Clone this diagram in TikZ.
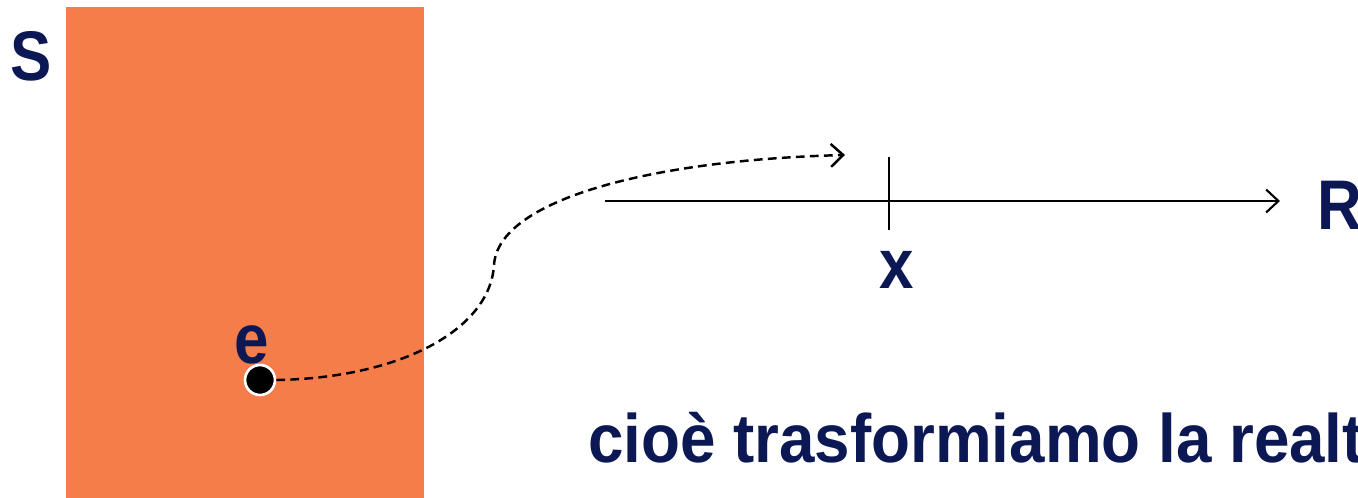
\documentclass[tikz,border=0pt]{standalone}
\usepackage{fontspec}
\setmainfont{Liberation Sans}
\newfontfamily\etich{Liberation Sans}[FakeStretch=0.88]
\newfontfamily\frasefont{Liberation Sans}[FakeStretch=0.93]
\usetikzlibrary{arrows.meta, positioning, calc}
\definecolor{arancio}{RGB}{244,125,74}
\definecolor{blunotte}{RGB}{12,24,84}

\begin{document}
\begin{tikzpicture}[
    x=0.02cm, y=-0.02cm,
    every node/.style={font=\etich\fontsize{40}{48}\selectfont\bfseries, text=blunotte, inner sep=0pt},
    punto/.style={circle, fill=black, draw=white, line width=1.5pt, minimum size=0.6cm},
    asse/.style={-{Straight Barb[length=7pt,width=13pt]}, line width=1.2pt},
    tratt/.style={-{Straight Barb[length=7pt,width=13pt]}, line width=1.4pt, dash pattern=on 5pt off 3pt}
]
\useasboundingbox (0,0) rectangle (1358,497);
\clip (0,0) rectangle (1358,497);
% insieme S
\fill[arancio] (66,7) rectangle (424,520);
\node (S) at (31,56) {S};
\node[punto] (e) at (260,380) {};
\node (elab) at (252,345) {e};
% retta reale
\node[anchor=west] (R) at (1317,205) {R};
\coordinate (orig) at (605,201);
\coordinate (fine) at (1280,201);
\draw[asse] (orig) -- (fine);
\coordinate (tsu) at (889,157);
\coordinate (tgiu) at (889,230);
\draw[line width=1.2pt] (tsu) -- (tgiu);
\node (x) at (897,270) {x};
% freccia tratteggiata
\coordinate (dest) at (845,155);
\draw[tratt] (e.east) .. controls (400,378) and (490,330) .. (494,265)
    .. controls (498,200) and (650,160) .. (dest);
% testo
\node[anchor=base west, font=\frasefont\fontsize{39}{46}\selectfont\bfseries] (frase) at (588,462) {cioè trasformiamo la realtà};
\end{tikzpicture}
\end{document}
